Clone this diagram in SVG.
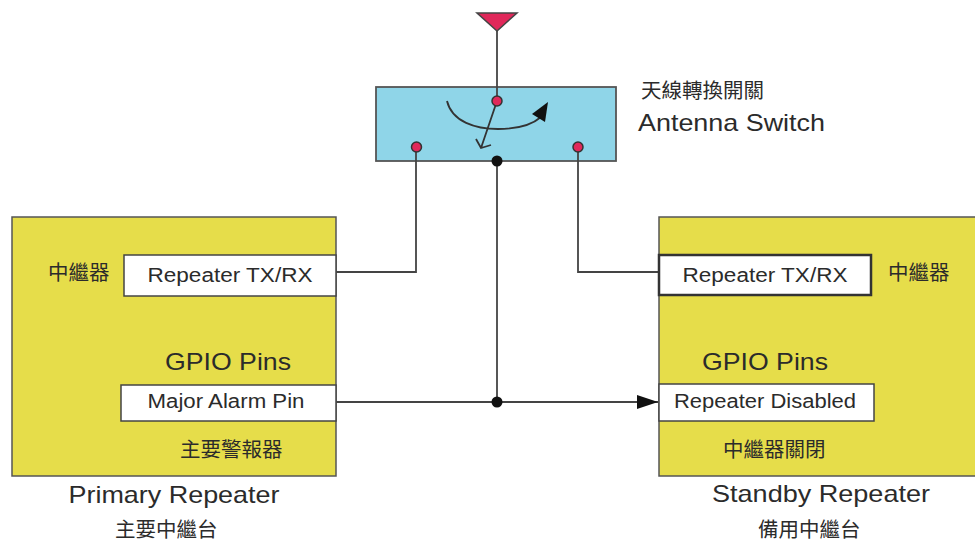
<svg xmlns="http://www.w3.org/2000/svg" width="975" height="542" viewBox="0 0 975 542">
<style>
text{font-family:"Liberation Sans","Noto Sans CJK TC",sans-serif;fill:#2b2b2b}
.cjk{font-family:"Noto Sans CJK TC",sans-serif;font-size:20.500px}
.s{font-size:20px}.m{font-size:24px}
.box{fill:#e6dd4a;stroke:#555;stroke-width:1.5}
.wb{fill:#fff;stroke:#444;stroke-width:1.5}
.ln{fill:none;stroke:#444;stroke-width:1.800}
.pin{fill:#e0285a;stroke:#333;stroke-width:1.5}
</style>
<defs><marker id="arr" markerUnits="userSpaceOnUse" markerWidth="22" markerHeight="14" refX="21" refY="7" orient="auto"><path d="M0 0L21 7L0 14Z" fill="#111"/></marker></defs>
<rect width="975" height="542" fill="#fff"/>
<g id="antenna-switch">
<rect x="376" y="87" width="240" height="74" fill="#8fd5e8" stroke="#555" stroke-width="1.800"/>
<path d="M447 101C452 122 476 129 498 129C518 129 533 124 541 117" fill="none" stroke="#333" stroke-width="1.800"/>
<path d="M548 102L545 122L532 114Z" fill="#111"/>
<path d="M497 101L481 148M476 139L481 148L491 145" fill="none" stroke="#333" stroke-width="1.800"/>
<text x="641" y="98" class="cjk">天線轉換開關</text>
<text x="638" y="131" class="m" textLength="187" lengthAdjust="spacingAndGlyphs">Antenna Switch</text>
</g>
<g id="antenna"><path d="M477 13H517L497 31Z" fill="#e0285a" stroke="#444" stroke-width="1.5"/></g>
<g id="connectors">
<path class="ln" d="M497 31V101"/>
<path class="ln" d="M336 272H416V147"/>
<path class="ln" d="M658 272H578V147"/>
<path class="ln" d="M497 161V402"/>
<path class="ln" d="M336 402H658" marker-end="url(#arr)"/>
</g>
<g id="primary-repeater">
<rect class="box" x="12" y="217" width="324" height="259"/>
<text x="48" y="280" class="cjk">中繼器</text>
<rect class="wb" x="124" y="255" width="212" height="41"/>
<text x="230" y="282" class="s" text-anchor="middle" textLength="165" lengthAdjust="spacingAndGlyphs">Repeater TX/RX</text>
<text x="228" y="370" class="m" text-anchor="middle" textLength="126" lengthAdjust="spacingAndGlyphs">GPIO Pins</text>
<rect class="wb" x="121" y="385" width="215" height="36"/>
<text x="226" y="408" class="s" text-anchor="middle" textLength="157" lengthAdjust="spacingAndGlyphs">Major Alarm Pin</text>
<text x="180" y="457" class="cjk">主要警報器</text>
<text x="174" y="503" class="m" text-anchor="middle" textLength="211" lengthAdjust="spacingAndGlyphs">Primary Repeater</text>
<text x="115" y="537" class="cjk">主要中繼台</text>
</g>
<g id="standby-repeater">
<rect class="box" x="659" y="217" width="325" height="259"/>
<rect x="659" y="255" width="212" height="40" fill="#fff" stroke="#333" stroke-width="2.5"/>
<text x="765" y="282" class="s" text-anchor="middle" textLength="165" lengthAdjust="spacingAndGlyphs">Repeater TX/RX</text>
<text x="888" y="280" class="cjk">中繼器</text>
<text x="765" y="370" class="m" text-anchor="middle" textLength="126" lengthAdjust="spacingAndGlyphs">GPIO Pins</text>
<rect class="wb" x="659" y="384" width="215" height="37"/>
<text x="765" y="408" class="s" text-anchor="middle" textLength="182" lengthAdjust="spacingAndGlyphs">Repeater Disabled</text>
<text x="723" y="457" class="cjk">中繼器關閉</text>
<text x="821" y="502" class="m" text-anchor="middle" textLength="218" lengthAdjust="spacingAndGlyphs">Standby Repeater</text>
<text x="758" y="537" class="cjk">備用中繼台</text>
</g>
<g id="junctions">
<circle class="pin" cx="497" cy="101" r="5"/>
<circle class="pin" cx="416.500" cy="147" r="5"/>
<circle class="pin" cx="578" cy="147" r="5"/>
<circle cx="497" cy="161" r="5.500" fill="#111"/>
<circle cx="497" cy="402" r="5.500" fill="#111"/>
</g>
</svg>
